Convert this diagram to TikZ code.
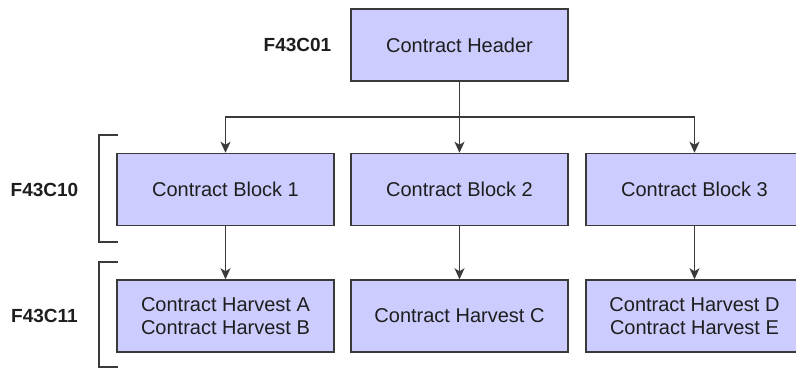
\documentclass[tikz,border=0pt]{standalone}
\usepackage{fontspec}
\setmainfont{Liberation Sans}
\usetikzlibrary{arrows.meta}
\definecolor{boxfill}{HTML}{CCCCFF}
\definecolor{lineclr}{HTML}{3A3A3A}
\definecolor{txtclr}{HTML}{1E1E1E}
\begin{document}
\begin{tikzpicture}[x=1pt,y=-1pt,
  tbox/.style={draw=lineclr, line width=1.5pt, fill=boxfill, minimum width=217pt, minimum height=72pt, inner sep=0pt, align=center, text=txtclr, font=\fontsize{20}{23}\selectfont},
  tlabel/.style={text=txtclr, font=\fontsize{19}{22}\selectfont\bfseries, inner sep=0pt},
  conn/.style={draw=lineclr, line width=1.4pt},
  arr/.style={conn, -{Stealth[length=11pt,width=10pt,inset=3pt]}},
  brk/.style={draw=lineclr, line width=1.4pt}]
\clip (0,0) rectangle (796,370);
\useasboundingbox (0,0) rectangle (796,370);
\fill[white] (0,0) rectangle (796,370);
\node[tbox] (hdr) at (459.5,45) {Contract Header};
\node[tbox] (b1) at (225.5,189.5) {Contract Block 1};
\node[tbox] (b2) at (459.5,189.5) {Contract Block 2};
\node[tbox] (b3) at (694.5,189.5) {Contract Block 3};
\node[tbox] (h1) at (225.5,316) {Contract Harvest A\\Contract Harvest B};
\node[tbox] (h2) at (459.5,316) {Contract Harvest C};
\node[tbox] (h3) at (694.5,316) {Contract Harvest D\\Contract Harvest E};
\node[tlabel] (l1) at (297.5,45) {F43C01};
\node[tlabel] (l2) at (44.5,190) {F43C10};
\node[tlabel] (l3) at (44.5,316) {F43C11};
\coordinate (j) at (459.5,117);
\draw[conn] (hdr.south) -- (j);
\draw[arr] (j) -| (b1.north);
\draw[arr] (j) -- (b2.north);
\draw[arr] (j) -| (b3.north);
\draw[arr] (b1) -- (h1);
\draw[arr] (b2) -- (h2);
\draw[arr] (b3) -- (h3);
\coordinate (k1a) at (118,135);
\coordinate (k1b) at (118,242);
\coordinate (k2a) at (118,262);
\coordinate (k2b) at (118,367);
\draw[brk] (k1a) -- ++(-19,0) |- (k1b);
\draw[brk] (k2a) -- ++(-19,0) |- (k2b);
\end{tikzpicture}
\end{document}
